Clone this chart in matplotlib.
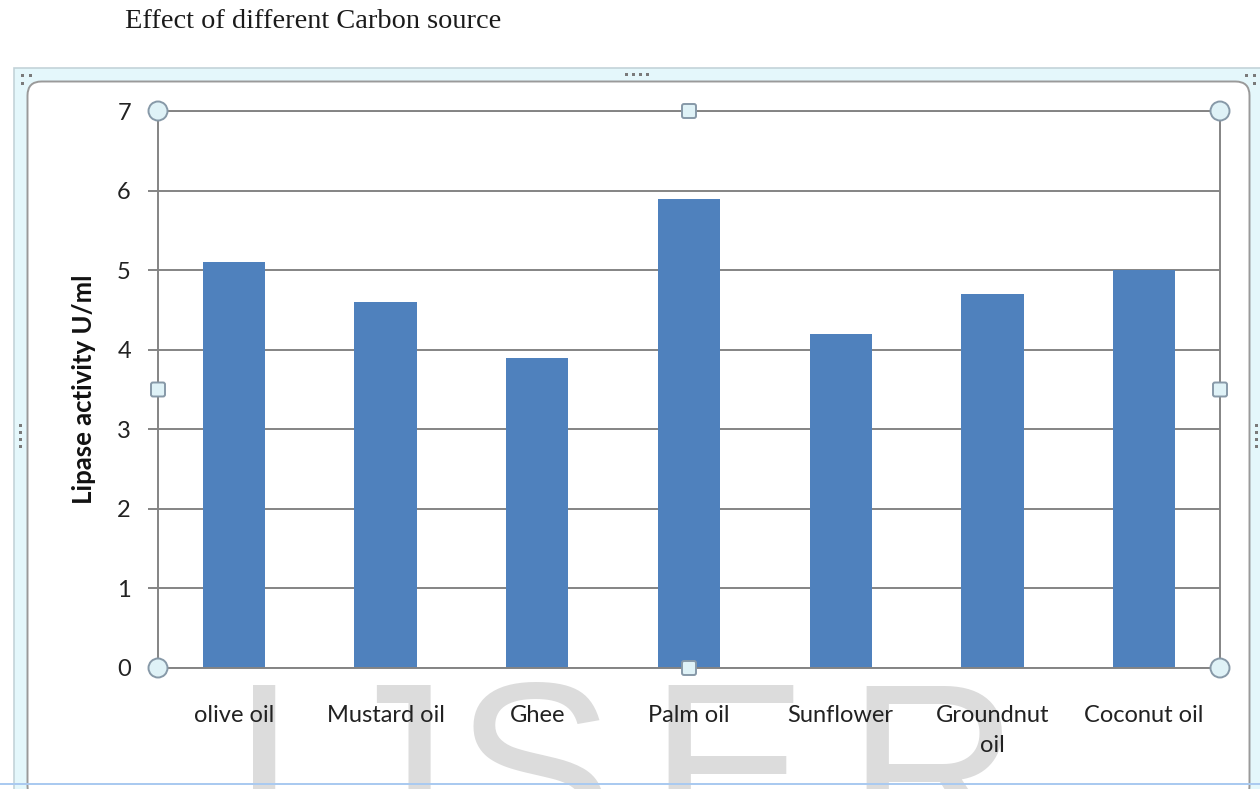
import matplotlib
matplotlib.use("Agg")
import matplotlib.pyplot as plt
from matplotlib.patches import Rectangle, Circle, FancyBboxPatch
from matplotlib.transforms import IdentityTransform

categories = ["olive oil", "Mustard oil", "Ghee", "Palm oil", "Sunflower", "Groundnut\noil", "Coconut oil"]
values = [5.1, 4.6, 3.9, 5.9, 4.2, 4.7, 5.0]
yticks = [0, 1, 2, 3, 4, 5, 6, 7]
title = "Effect of different Carbon source"
ylabel = "Lipase activity U/ml"
watermark = ["I", "J", "S", "E", "R"]

W, H = 1260, 789
fig = plt.figure(figsize=(12.6, 7.89), dpi=100)
fig.patch.set_facecolor("white")
ID = IdentityTransform()

def P(x, y):
    # image pixel coords (top-left origin) -> display coords
    return (x, H - y)

GRID = "#848484"
BAR = "#4f81bd"
HFILL = "#dff2f7"
HEDGE = "#8799a8"

# ---- chart selection frame ----
outer = Rectangle(P(13.5, 800), 1258 - 13.5 + 20, 800 - 67.5, transform=ID,
                  facecolor="#e4f7fb", edgecolor="#c3d3d9", lw=1.2, zorder=-3)
fig.patches.append(outer)
inner = FancyBboxPatch(P(27.5, 800), 1249.5 - 27.5, 800 - 81.5, transform=ID,
                       boxstyle="round,pad=0,rounding_size=14",
                       facecolor="white", edgecolor="#9a9a9a", lw=1.4, zorder=-2)
fig.patches.append(inner)
# bottom blue line
fig.patches.append(Rectangle(P(0, 785), W, 2.5, transform=ID,
                             facecolor="#aacaf0", edgecolor="none", zorder=-1))
# small grip dots
def dot(x, y):
    fig.patches.append(Rectangle(P(x - 1.5, y + 1.5), 3, 3, transform=ID,
                                 facecolor="#7a7a7a", edgecolor="none", zorder=-1))
for (x, y) in [(22, 75), (30, 75), (22, 83), (1246, 75), (1254, 75), (1254, 83)]:
    dot(x, y)
for i in range(4):
    dot(626 + 7 * i, 74)
    dot(20, 425 + 7 * i)
    dot(1256, 425 + 7 * i)

# ---- watermark (behind the chart text) ----
wm_x = [231, 328, 454, 648, 846]
for ch, wx in zip(watermark, wm_x):
    fig.text(wx / W, 1 - 850 / H, ch, family="Liberation Sans", fontsize=172,
             color="#dcdcdc", ha="left", va="baseline", zorder=-1.5)

# ---- title ----
fig.text(125 / W, 1 - 22 / H, title, family="Liberation Serif", fontsize=20.4,
         ha="left", va="center", color="#1a1a1a")

# ---- axes ----
L, R, T, B = 158, 1220, 111, 668
ax = fig.add_axes([L / W, 1 - B / H, (R - L) / W, (B - T) / H])
ax.set_facecolor("none")
x = list(range(len(categories)))
ax.bar(x, values, width=0.41, color=BAR, zorder=2)
ax.set_xlim(-0.5, len(categories) - 0.5)
ax.set_ylim(0, 7)
ax.set_yticks(yticks)
ax.set_yticklabels([str(t) for t in yticks], family="Lato", fontsize=17, color="#222222")
ax.set_xticks(x)
ax.set_xticklabels(categories, family="Lato", fontsize=17, color="#222222",
                   linespacing=1.55, va="top")
ax.tick_params(axis="y", length=7.5, width=1.4, color=GRID, pad=12)
ax.tick_params(axis="x", length=0, pad=26.5)
ax.grid(axis="y", color=GRID, lw=1.4, zorder=0)
ax.set_axisbelow(True)
for s in ax.spines.values():
    s.set_color(GRID)
    s.set_linewidth(1.4)
ax.set_ylabel(ylabel, family="Lato", fontweight="bold", fontsize=18.5, labelpad=15,
              color="#111111")

# ---- selection handles ----
def circ(px, py):
    fig.patches.append(Circle(P(px, py), 9.5, transform=ID, facecolor=HFILL,
                              edgecolor=HEDGE, lw=1.4, zorder=5))
def sq(px, py):
    fig.patches.append(FancyBboxPatch(P(px - 7, py + 7), 14, 14, transform=ID,
                                      boxstyle="round,pad=0,rounding_size=2",
                                      facecolor=HFILL, edgecolor=HEDGE, lw=1.4, zorder=5))
for (px, py) in [(L, T), (R, T), (L, B), (R, B)]:
    circ(px, py)
for (px, py) in [((L + R) / 2, T), ((L + R) / 2, B), (L, (T + B) / 2), (R, (T + B) / 2)]:
    sq(px, py)

fig.savefig("out.png", dpi=100)
